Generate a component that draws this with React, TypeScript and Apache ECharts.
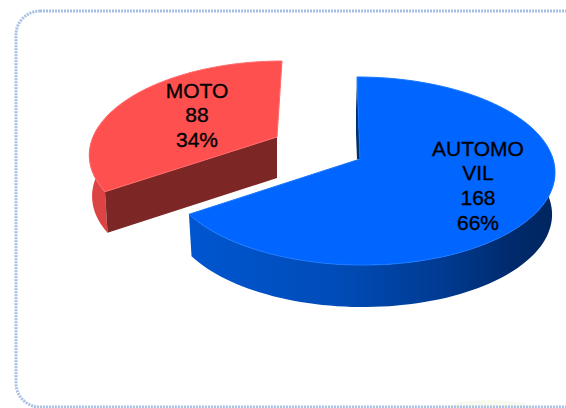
import React, { useEffect, useRef } from "react";
import * as echarts from "echarts";

const categories = ["MOTO", "AUTOMOVIL"];
const labelLines = [["MOTO"], ["AUTOMO", "VIL"]];
const values = [88, 168];

const total = values.reduce((a, b) => a + b, 0);

type Geo = { ax: number; ay: number; rx: number; k: number; p: number; skew: number; depth: number; lx: number; ly: number };
const geos: Geo[] = [
  { ax: 277, ay: 137, rx: 184, k: 89.1, p: 0.1727, skew: 5, depth: 41, lx: 197, ly: 90 },
  { ax: 360, ay: 159, rx: 193, k: 92.5, p: 0.1277, skew: -3, depth: 42, lx: 478, ly: 148 },
];

function project(g: Geo, deg: number, down = 0, shrink = 1): number[] {
  const t = (deg * Math.PI) / 180;
  const s = Math.sin(t);
  const c = Math.cos(t);
  const d = 1 + g.p * c;
  return [g.ax + (shrink * g.rx * s) / d + g.skew * c, g.ay - (g.k * c) / d + down];
}

function arc(g: Geo, from: number, to: number, down = 0, shrink = 1): number[][] {
  const n = Math.max(2, Math.ceil(Math.abs(to - from) / 2));
  const pts: number[][] = [];
  for (let i = 0; i <= n; i++) pts.push(project(g, from + ((to - from) * i) / n, down, shrink));
  return pts;
}

const grad = (x: number, x2: number, stops: [number, string][]) =>
  new echarts.graphic.LinearGradient(x, 0, x2, 0, stops.map(([offset, color]) => ({ offset, color })), true as any);

function renderItem(params: any, api: any) {
  const i = params.dataIndex;
  const value = api.value(0) as number;
  const sweep = (value / total) * 360;
  const g = geos[i];
  const children: any[] = [];
  const lines = [...labelLines[i], String(value), `${Math.round((value / total) * 100)}%`];

  if (i === 0) {
    const start = -sweep;
    const apex = [g.ax, g.ay];
    const corner = project(g, start);
    const cornerLow = project(g, start, g.depth, 0.985);
    children.push({
      type: "polygon",
      shape: { points: [...arc(g, start, -85), ...arc(g, -85, start, g.depth, 0.985)] },
      style: { fill: "#DC4444" },
    });
    children.push({
      type: "polygon",
      shape: { points: [apex, corner, cornerLow, [g.ax, g.ay + g.depth]] },
      style: { fill: "#7C2626" },
    });
    children.push({
      type: "polygon",
      shape: { points: [apex, ...arc(g, start, 0)] },
      style: { fill: "#FF5050", stroke: "#FF6A6A", lineWidth: 1 },
    });
  } else {
    const end = sweep;
    const top = project(g, 0);
    children.push({
      type: "polygon",
      shape: { points: [[g.ax, g.ay], top, [top[0] - 1, g.ay - 50], [g.ax - 4, g.ay - 25], [g.ax - 3, g.ay]] },
      style: { fill: "#00306E" },
    });
    children.push({
      type: "polygon",
      shape: { points: [...arc(g, 88, end), ...arc(g, end, 88, g.depth, 0.985)] },
      style: {
        fill: grad(190, 555, [
          [0, "#0056D0"],
          [0.4, "#004CB8"],
          [0.7, "#003A90"],
          [0.88, "#002A6C"],
          [1, "#00265F"],
        ]),
      },
    });
    children.push({
      type: "polygon",
      shape: { points: [[g.ax, g.ay], ...arc(g, 0, end)] },
      style: { fill: "#0066FF", stroke: "#1A78FF", lineWidth: 1 },
    });
  }

  lines.forEach((text, n) => {
    children.push({
      type: "text",
      x: g.lx,
      y: g.ly + n * 24.7,
      style: {
        text,
        fill: "#000000",
        stroke: "#000000",
        lineWidth: 0.35,
        font: '21px "Liberation Sans", Arial, sans-serif',
        textAlign: "center",
        textVerticalAlign: "middle",
      },
    });
  });
  return { type: "group", children };
}

export default function App() {
  const ref = useRef<HTMLDivElement>(null);
  useEffect(() => {
    document.body.style.margin = "0";
    const chart = echarts.init(ref.current!, undefined, { renderer: "svg" });
    chart.setOption({
      animation: false,
      backgroundColor: "#FFFFFF",
      graphic: [
        {
          type: "ellipse",
          shape: { cx: 490, cy: 408, rx: 42, ry: 8 },
          style: { fill: "#F8FAF0" },
          z: -2,
        },
        {
          type: "rect",
          shape: { x: 16, y: 11, width: 700, height: 396, r: 24 },
          style: { fill: "transparent", stroke: "#A8C0E4", lineWidth: 3, lineDash: [2, 1] },
          z: -1,
        },
      ],
      series: [
        {
          type: "custom",
          coordinateSystem: "none",
          renderItem,
          data: categories.map((name, i) => ({ name, value: [values[i]] })),
        },
      ],
    });
    return () => chart.dispose();
  }, []);
  return <div ref={ref} style={{ width: 566, height: 408 }} />;
}
